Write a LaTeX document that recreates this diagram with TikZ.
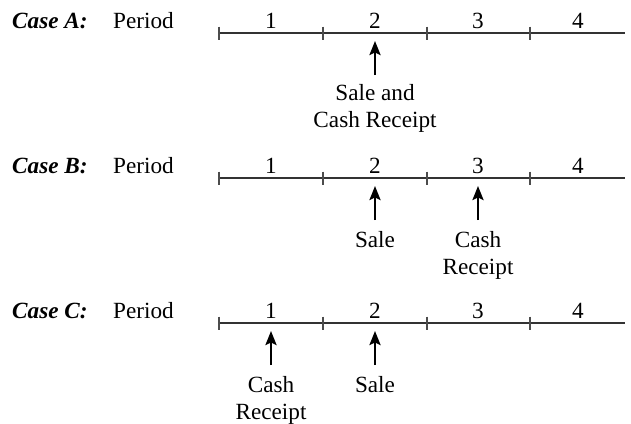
\documentclass[tikz,border=0pt]{standalone}
\usepackage{fontspec}
\setmainfont{Liberation Serif}
\usetikzlibrary{arrows.meta}
\begin{document}
\begin{tikzpicture}[x=1pt,y=1pt,
  every node/.style={font=\fontsize{23.2}{27}\selectfont, inner sep=0pt},
  tline/.style={draw=black!80, line width=1.2pt},
  tick/.style={draw=black!70, line width=1.2pt},
  evt/.style={-{Stealth[width=11pt,length=14pt,inset=2.5pt]}, line width=2.5pt},
  lbl/.style={anchor=base, align=center},
  casel/.style={anchor=base west, font=\fontsize{23.2}{27}\selectfont\bfseries\itshape},
  perl/.style={anchor=base west}]
\useasboundingbox (0,0) rectangle (631,-423);
\foreach \c/\y in {A/-33, B/-178, C/-323}{
  \node[casel] (case\c) at (12,\y+5) {Case \c:};
  \node[perl] (per\c) at (113,\y+5) {Period};
  \coordinate (s\c) at (219,\y);
  \coordinate (e\c) at (625,\y);
  \draw[tline] (s\c) -- (e\c);
  \foreach \i/\x in {0/219,1/323,2/427,3/530}{
    \coordinate (t\c\i) at (\x,\y);
    \draw[tick] ([yshift=6.5pt]t\c\i) -- ([yshift=-6.5pt]t\c\i);
  }
  \foreach \n/\x in {1/271,2/375,3/478,4/578}{
    \node[anchor=base] (n\c\n) at (\x,\y+5) {\n};
  }
}
% Case A
\coordinate (aA) at (375,-75);
\draw[evt] (aA) -- ++(0,34);
\node[lbl] (lA) at (375,-127) {Sale and\\Cash Receipt};
% Case B
\coordinate (aB1) at (375,-220);
\draw[evt] (aB1) -- ++(0,34);
\node[lbl] (lB1) at (375,-247) {Sale};
\coordinate (aB2) at (478,-220);
\draw[evt] (aB2) -- ++(0,34);
\node[lbl] (lB2) at (478,-274) {Cash\\Receipt};
% Case C
\coordinate (aC1) at (271,-365);
\draw[evt] (aC1) -- ++(0,34);
\node[lbl] (lC1) at (271,-419) {Cash\\Receipt};
\coordinate (aC2) at (375,-365);
\draw[evt] (aC2) -- ++(0,34);
\node[lbl] (lC2) at (375,-392) {Sale};
\end{tikzpicture}
\end{document}
